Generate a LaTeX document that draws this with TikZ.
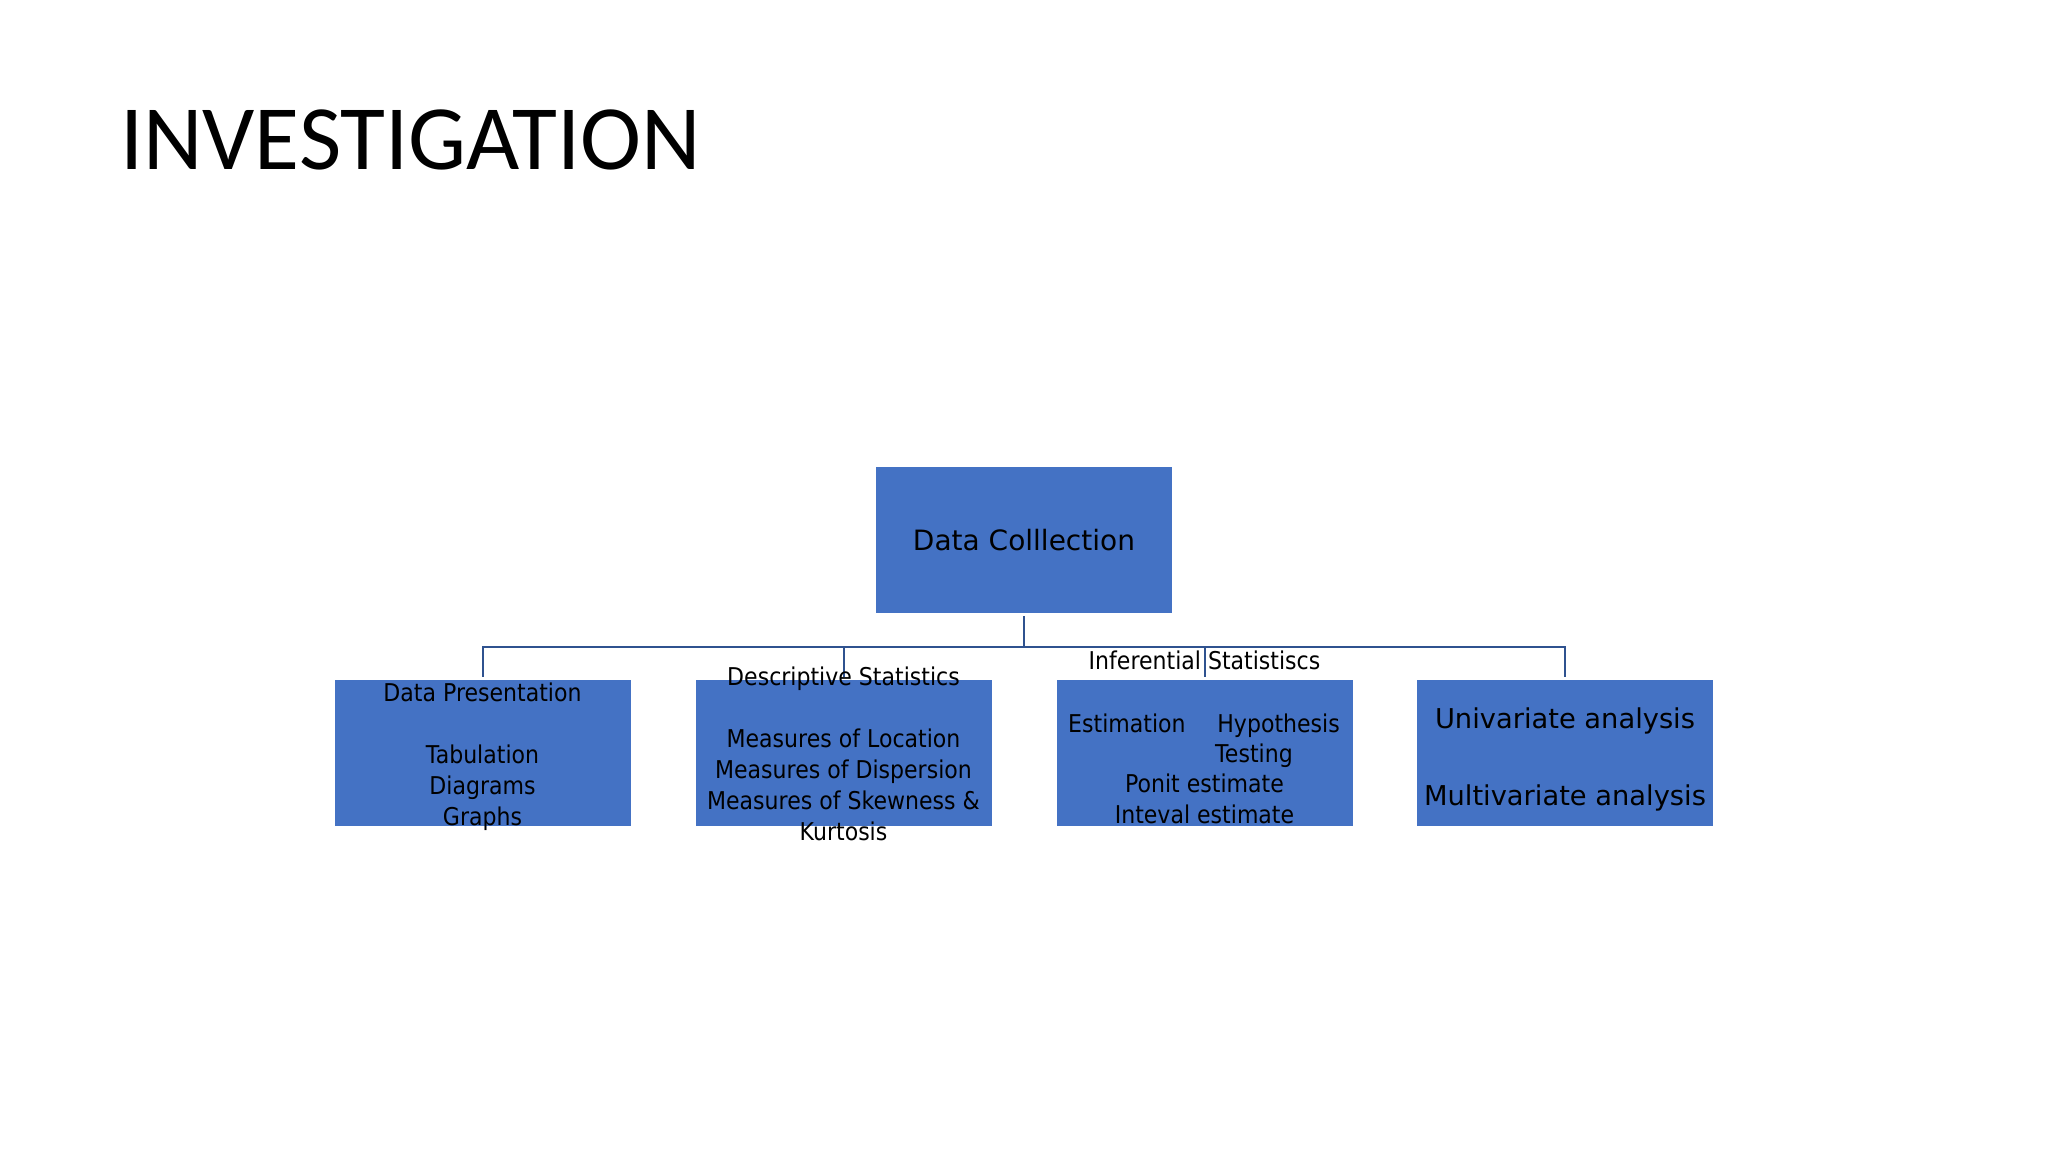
\documentclass[tikz,border=0pt]{standalone}
\usepackage{fontspec}
\setmainfont{DejaVu Sans}
\newfontfamily\titlefont{Carlito}
\newfontfamily\condfont[FakeStretch=0.9]{DejaVu Sans}
\definecolor{boxblue}{HTML}{4472C4}
\definecolor{lineblue}{HTML}{2F528F}
\begin{document}
\begin{tikzpicture}[x=1pt,y=-1pt,
  box/.style={rectangle, fill=boxblue, minimum width=296pt, minimum height=146pt, inner sep=0pt},
  conn/.style={draw=lineblue, line width=2pt},
  small/.style={font=\condfont\fontsize{24.5}{31}\selectfont, inner sep=0pt, anchor=base},
  big/.style={font=\fontsize{27.3}{33}\selectfont, inner sep=0pt, anchor=base}]
\fill[white] (0,0) rectangle (2048,1152);
\useasboundingbox (0,0) rectangle (2048,1152);

\node[font=\titlefont\fontsize{92}{110}\selectfont, anchor=base west, inner sep=0pt] (title) at (120,169) {INVESTIGATION};

\node[box, font=\fontsize{28}{34}\selectfont] (dc) at (1024,540) {Data Colllection};
\node[box] (dp) at (482.5,753) {};
\node[box] (ds) at (843.5,753) {};
\node[box] (is) at (1204.5,753) {};
\node[box] (ua) at (1565,753) {};

\draw[conn] ([yshift=-3pt]dc.south) -- ++(0,31) coordinate (bus);
\draw[conn] (bus) -| ([yshift=3pt]dp.north);
\draw[conn] (bus) -| ([yshift=3pt]ds.north);
\draw[conn] (bus) -| ([yshift=3pt]is.north);
\draw[conn] (bus) -| ([yshift=3pt]ua.north);

% Data Presentation
\node[small] (dp1) at (482.5,701) {Data Presentation};
\node[small] (dp2) at (482.5,763) {Tabulation};
\node[small] (dp3) at (482.5,794) {Diagrams};
\node[small] (dp4) at (482.5,825) {Graphs};

% Descriptive Statistics
\node[small] (ds1) at (843.5,685) {Descriptive Statistics};
\node[small] (ds2) at (843.5,747) {Measures of Location};
\node[small] (ds3) at (843.5,778) {Measures of Dispersion};
\node[small] (ds4) at (843.5,809) {Measures of Skewness \&};
\node[small] (ds5) at (843.5,840) {Kurtosis};

% Inferential Statistics
\node[small] (is1) at (1204.5,669) {Inferential Statistiscs};
\node[small, anchor=base west] (is2) at (1068,732) {Estimation};
\node[small, anchor=base east] (is3) at (1340,732) {Hypothesis};
\node[small, anchor=base west] (is4) at (1215,762) {Testing};
\node[small] (is5) at (1204.5,792) {Ponit estimate};
\node[small] (is6) at (1204.5,823) {Inteval estimate};

% Univariate / Multivariate
\node[big] (ua1) at (1565,728) {Univariate analysis};
\node[big] (ua2) at (1565,805) {Multivariate analysis};
\end{tikzpicture}
\end{document}
